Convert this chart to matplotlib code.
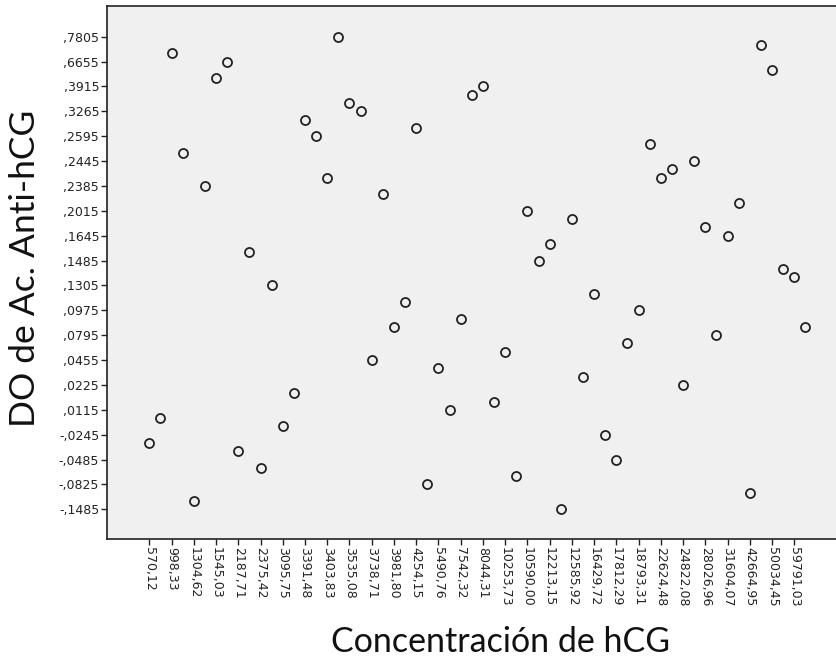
import matplotlib
matplotlib.use('Agg')
import matplotlib.pyplot as plt

# x: hCG concentration categories (sorted), one point per category; label shown every 2nd
x_labels = ['570,12', '998,33', '1304,62', '1545,03', '2187,71', '2375,42',
            '3095,75', '3391,48', '3403,83', '3535,08', '3738,71', '3981,80',
            '4254,15', '5490,76', '7542,32', '8044,31', '10253,73', '10590,00',
            '12213,15', '12585,92', '16429,72', '17812,29', '18793,31',
            '22624,48', '24822,08', '28026,96', '31604,07', '42664,95',
            '50034,45', '59791,03']

# y: DO categories (58 ordered levels), label shown every 3rd level
y_labels = ['-,1485', '-,0825', '-,0485', '-,0245', ',0115', ',0225', ',0455',
            ',0795', ',0975', ',1305', ',1485', ',1645', ',2015', ',2385',
            ',2445', ',2595', ',3265', ',3915', ',6655', ',7805']

# DO level (position on the categorical y axis) for each of the 60 samples
do_level = [8, 11, 55, 43, 1, 39, 52, 54, 7, 31,
            5, 27, 10, 14, 47, 45, 40, 57, 49, 48,
            18, 38, 22, 25, 46, 3, 17, 12, 23, 50,
            51, 13, 19, 4, 36, 30, 32, 0, 35, 16,
            26, 9, 6, 20, 24, 44, 40, 41, 15, 42,
            34, 21, 33, 37, 2, 56, 53, 29, 28, 22]


def run():
    fig = plt.figure(figsize=(8.36, 6.69), dpi=100)
    ax = fig.add_axes([107.5 / 836, 1 - 539 / 669, 1 - 107.5 / 836, (539 - 6) / 669])
    ax.set_facecolor('#f0f0f0')

    xs = list(range(len(do_level)))
    ax.plot(xs, do_level, linestyle='none', marker='o', markersize=6.5,
            markerfacecolor='none', markeredgecolor='#222222', markeredgewidth=1.3)

    ax.set_xlim(-3.76, 61.75)
    ax.set_ylim(-3.58, 60.7)

    ax.set_xticks(range(0, 2 * len(x_labels), 2))
    ax.set_xticklabels(x_labels, rotation=-90, fontsize=9, color='#222222')
    ax.set_yticks(range(0, 3 * len(y_labels), 3))
    ax.set_yticklabels(y_labels, fontsize=9, color='#222222')
    ax.tick_params(direction='out', length=4, width=1, color='#222222', pad=2)

    ax.spines['right'].set_visible(False)
    for s in ['left', 'top', 'bottom']:
        ax.spines[s].set_color('#222222')
        ax.spines[s].set_linewidth(1.2)

    fig.text(501 / 836, 1 - 642 / 669, 'Concentración de hCG', family='Lato',
             fontsize=24.5, ha='center', va='center', color='#111111')
    fig.text(25 / 836, 1 - 268 / 669, 'DO de Ac. Anti-hCG', family='Lato',
             fontsize=25.5, ha='center', va='center', rotation=90, color='#111111')

    fig.savefig('out.png', dpi=100)


if __name__ == '__main__':
    run()
